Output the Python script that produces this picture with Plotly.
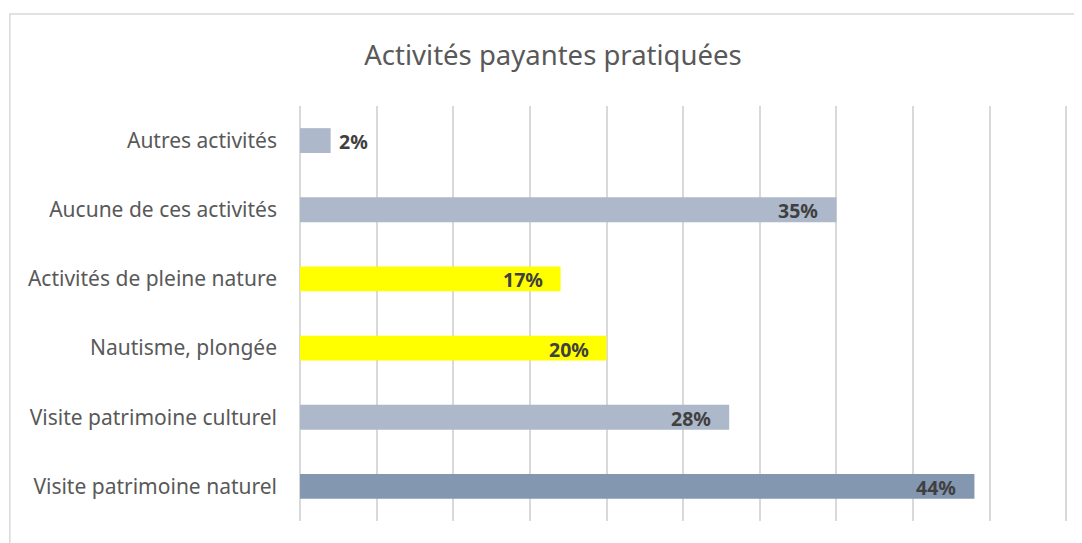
import plotly.graph_objects as go

categories = ["Visite patrimoine naturel", "Visite patrimoine culturel", "Nautisme, plongée",
              "Activités de pleine nature", "Aucune de ces activités", "Autres activités"]
values = [44, 28, 20, 17, 35, 2]
labels = ["44%", "28%", "20%", "17%", "35%", "2%"]
colors = ["#8497B0", "#ADB9CA", "#FFFF00", "#FFFF00", "#ADB9CA", "#ADB9CA"]
inside = [True, True, True, True, True, False]

OFF = 8  # page body margin
XMAX = 50.3
W, H = 1082 - OFF, 543 - OFF
L, T, B = 300 - OFF, 106 - OFF, 22
pw = 766 * XMAX / 50
R = W - L - pw
ph = H - T - B

def px_x(p):
    return (p - OFF - L) / pw

def px_y(p):
    return (H - B - (p - OFF)) / ph

fig = go.Figure(go.Bar(
    y=categories, x=values, orientation="h",
    marker=dict(color=colors, line=dict(width=0)),
    hoverinfo="skip",
))

for cat, v, lab, ins in zip(categories, values, labels, inside):
    fig.add_annotation(
        x=v, y=cat, xref="x", yref="y", text=lab, showarrow=False,
        xanchor="right" if ins else "left", xshift=-16 if ins else 6, yshift=-1,
        font=dict(family="Noto Sans", size=19.5, color="#404040", weight="bold"),
    )

fig.update_layout(
    width=W, height=H,
    margin=dict(l=L, r=R, t=T, b=B),
    paper_bgcolor="white", plot_bgcolor="white",
    bargap=0.64,
    showlegend=False,
    title=dict(text="Activités payantes pratiquées", x=(553 - OFF) / W, xanchor="center",
               y=1 - (55 - OFF) / H, yanchor="middle",
               font=dict(family="Noto Sans", size=27.5, color="#595959")),
    xaxis=dict(range=[0, XMAX], tickvals=list(range(0, 55, 5)), showticklabels=False, showgrid=True,
               gridcolor="#D9D9D9", gridwidth=1.5, zeroline=True,
               zerolinecolor="#D9D9D9", zerolinewidth=1.5, fixedrange=True),
    yaxis=dict(tickfont=dict(family="Noto Sans", size=21, color="#595959"),
               ticks="", ticklabelstandoff=22, showgrid=False, fixedrange=True),
    shapes=[dict(type="rect", xref="paper", yref="paper",
                 x0=px_x(10), x1=px_x(1100), y0=px_y(560), y1=px_y(14),
                 line=dict(color="#D9D9D9", width=1.5), layer="below")],
)

fig.write_html("out.html")
